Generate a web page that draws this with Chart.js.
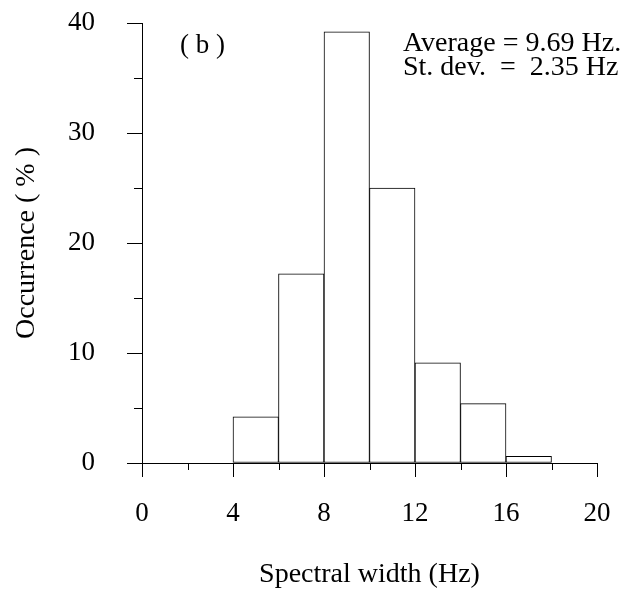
<!DOCTYPE html>
<html>
<head>
<meta charset="utf-8">
<script src="https://cdn.jsdelivr.net/npm/chart.js@4.4.1/dist/chart.umd.min.js"></script>
<style>
  html, body { margin: 0; padding: 0; background: #fff; }
  #wrap { width: 625px; height: 589px; }
</style>
</head>
<body>
<div id="wrap"><canvas id="hist"></canvas></div>
<script>
// histogram bins (Hz) and occurrence (%)
const binStarts = [0, 2, 4, 6, 8, 10, 12, 14, 16, 18];
const binWidth = 2;
const occurrence = [0, 0, 4.2, 17.2, 39.2, 25.0, 9.1, 5.4, 0.6, 0];

const xTickValues = [0, 4, 8, 12, 16, 20];
const yTickValues = [0, 10, 20, 30, 40];

const panelLabel = '( b )';
const statsLines = ['Average = 9.69 Hz.', 'St. dev.  =  2.35 Hz'];

const FONT = "'Liberation Serif', 'Times New Roman', serif";

// tick marks: long on labelled values, short in between
const tickMarks = {
  id: 'tickMarks',
  afterDraw(chart) {
    const { ctx, scales: { x, y } } = chart;
    const bottom = y.getPixelForValue(0);
    const left = x.getPixelForValue(0);
    ctx.save();
    ctx.strokeStyle = '#000';
    ctx.lineWidth = 1;
    ctx.beginPath();
    for (let v = 0; v <= 20; v += 2) {
      const px = Math.round(x.getPixelForValue(v)) + 0.5;
      const len = xTickValues.includes(v) ? 14 : 7;
      ctx.moveTo(px, bottom);
      ctx.lineTo(px, bottom + len);
    }
    for (let v = 0; v <= 40; v += 5) {
      const py = Math.round(y.getPixelForValue(v)) + 0.5;
      const len = yTickValues.includes(v) ? 15 : 8;
      ctx.moveTo(left, py);
      ctx.lineTo(left - len, py);
    }
    ctx.stroke();

    ctx.fillStyle = '#000';
    ctx.textBaseline = 'alphabetic';
    ctx.textAlign = 'left';
    ctx.font = '27px ' + FONT;
    ctx.fillText(panelLabel, x.getPixelForValue(1.67), y.getPixelForValue(37.3));
    ctx.font = '28px ' + FONT;
    ctx.fillText(statsLines[0], x.getPixelForValue(11.47), y.getPixelForValue(37.5));
    ctx.fillText(statsLines[1], x.getPixelForValue(11.47), y.getPixelForValue(35.3));
    ctx.restore();
  }
};

new Chart(document.getElementById('hist'), {
  type: 'bar',
  data: {
    datasets: [{
      data: binStarts.map((s, i) => ({ x: s + binWidth / 2, y: occurrence[i] })),
      backgroundColor: '#fff',
      borderColor: '#000',
      borderWidth: 1,
      borderSkipped: false,
      barPercentage: 1,
      categoryPercentage: 1
    }]
  },
  options: {
    responsive: true,
    maintainAspectRatio: false,
    animation: false,
    layout: { padding: { left: 0, right: 28, top: 23, bottom: 0 } },
    plugins: { legend: { display: false }, tooltip: { enabled: false } },
    scales: {
      x: {
        type: 'linear',
        min: 0, max: 20,
        offset: false,
        afterFit(scale) { scale.height = 126; },
        afterBuildTicks(scale) { scale.ticks = xTickValues.map(v => ({ value: v })); },
        // invisible tick marks only used to push the labels down
        grid: { display: true, drawOnChartArea: false, drawTicks: true, tickLength: 35, tickColor: 'rgba(0,0,0,0)' },
        border: { display: true, color: '#000', width: 1 },
        ticks: { color: '#000', padding: 0, maxRotation: 0, font: { family: FONT, size: 27 } },
        title: {
          display: true, text: 'Spectral width (Hz)', color: '#000',
          padding: { top: 0, bottom: -2 }, font: { family: FONT, size: 28 }
        }
      },
      y: {
        min: 0, max: 40,
        afterFit(scale) { scale.width = 142; },
        afterBuildTicks(scale) { scale.ticks = yTickValues.map(v => ({ value: v })); },
        grid: { display: true, drawOnChartArea: false, drawTicks: true, tickLength: 47, tickColor: 'rgba(0,0,0,0)' },
        border: { display: true, color: '#000', width: 1 },
        ticks: { color: '#000', padding: 0, font: { family: FONT, size: 27 } },
        title: {
          display: true, text: 'Occurrence ( % )', color: '#000',
          padding: { top: 10, bottom: 0 }, font: { family: FONT, size: 28 }
        }
      }
    }
  },
  plugins: [tickMarks]
});
</script>
</body>
</html>
